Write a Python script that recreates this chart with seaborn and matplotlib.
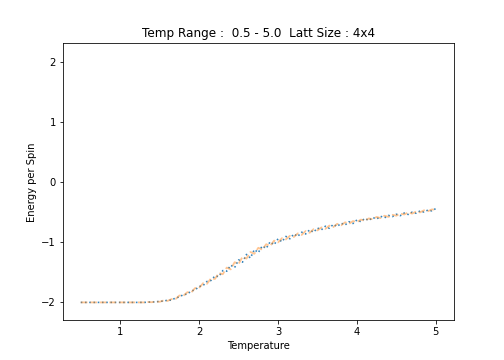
import matplotlib
matplotlib.use("Agg")
import matplotlib.pyplot as plt
import numpy as np
import seaborn as sns

# temperature grid and energy per spin (two runs)
temps = np.linspace(0.5, 5.0, 91)

energy_a = [-2.0] * 17 + [
    -1.997, -1.99, -1.995, -1.978, -1.982, -1.96, -1.965, -1.925, -1.91, -1.87,
    -1.862, -1.81, -1.79,
    -1.735, -1.72, -1.65, -1.635, -1.56, -1.57, -1.47, -1.48, -1.38, -1.42,
    -1.29, -1.33, -1.20, -1.26, -1.12, -1.17, -1.06, -1.10, -0.99, -1.04,
    -0.94, -0.99, -0.90, -0.94, -0.86, -0.90, -0.83, -0.86, -0.79, -0.83,
    -0.76, -0.79, -0.73, -0.765, -0.70, -0.735, -0.68, -0.71, -0.655, -0.685,
    -0.625, -0.655, -0.60, -0.635, -0.585, -0.61, -0.565, -0.59, -0.55, -0.57,
    -0.53, -0.555, -0.51, -0.535, -0.495, -0.515, -0.475, -0.495, -0.46, -0.475,
    -0.435,
]

energy_b = [-2.0] * 17 + [
    -1.994, -1.997, -1.986, -1.99, -1.968, -1.975, -1.945, -1.945, -1.885, -1.89,
    -1.83, -1.835, -1.76,
    -1.76, -1.68, -1.69, -1.60, -1.61, -1.51, -1.53, -1.42, -1.45, -1.33,
    -1.36, -1.24, -1.27, -1.16, -1.19, -1.09, -1.12, -1.03, -1.06, -0.97,
    -1.00, -0.93, -0.95, -0.89, -0.91, -0.85, -0.875, -0.81, -0.84, -0.78,
    -0.80, -0.75, -0.775, -0.72, -0.745, -0.69, -0.715, -0.665, -0.69, -0.645,
    -0.66, -0.62, -0.64, -0.60, -0.615, -0.575, -0.595, -0.555, -0.575, -0.54,
    -0.555, -0.52, -0.535, -0.50, -0.52, -0.485, -0.50, -0.465, -0.48, -0.45,
    -0.46,
]

fig, ax = plt.subplots(figsize=(7, 5), dpi=72)

sns.lineplot(x=temps, y=energy_a, ax=ax, color="C0", linestyle=":",
             linewidth=1.6, alpha=0.9)
sns.lineplot(x=temps, y=energy_b, ax=ax, color="C1", linestyle="--",
             linewidth=1.8, alpha=0.45)

ax.set_ylim(-2.3, 2.32)
ax.set_yticks([-2, -1, 0, 1, 2])
ax.set_title("Temp Range :  0.5 - 5.0  Latt Size : 4x4")
ax.set_xlabel("Temperature")
ax.set_ylabel("Energy per Spin")

fig.savefig("out.png", dpi=72)
